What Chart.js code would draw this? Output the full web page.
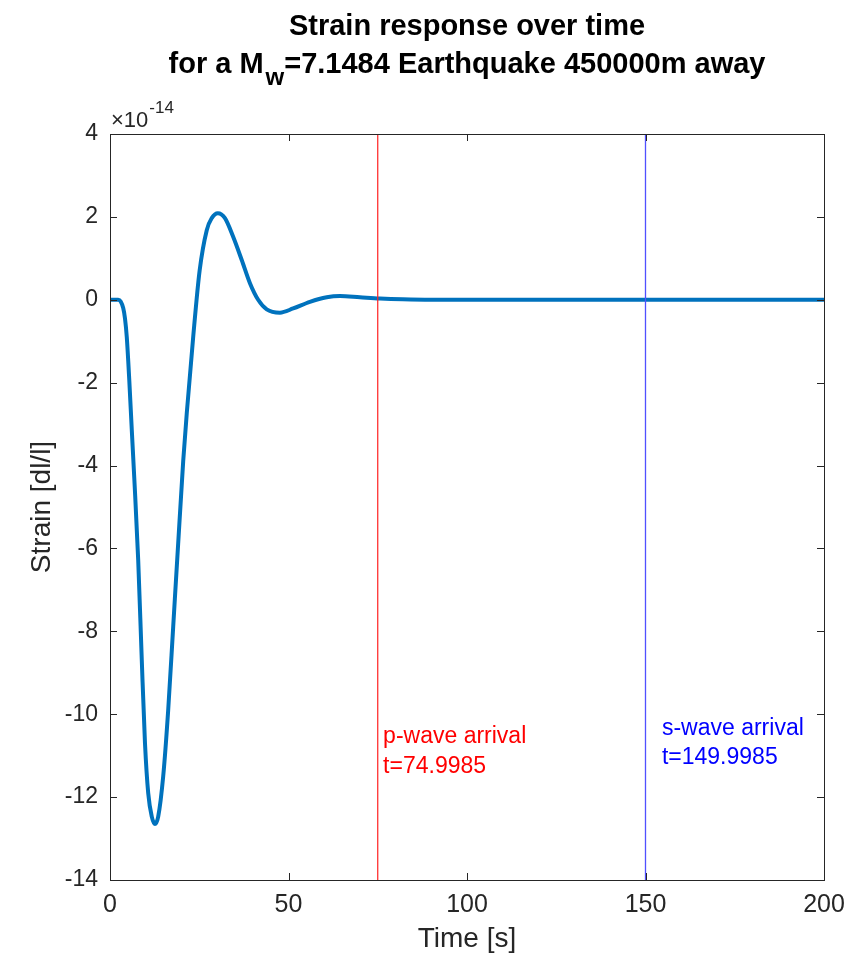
<!DOCTYPE html>
<html>
<head>
<meta charset="utf-8">
<script src="https://cdn.jsdelivr.net/npm/chart.js@4.4.1/dist/chart.umd.min.js"></script>
<style>
  html, body { margin: 0; padding: 0; background: #ffffff; }
  #wrap { width: 853px; height: 955px; position: relative; }
</style>
</head>
<body>
<div id="wrap"><canvas id="c" width="853" height="955"></canvas></div>
<script>
// ---- data (strain in units of 1e-14) ----
const EXPONENT = -14;
const time   = [0, 2.3, 3.0, 3.7, 4.2, 4.7, 5.4, 6.1, 6.8, 7.9, 8.9, 9.8, 10.7, 11.7, 12.6, 13.5, 14.9, 16.3, 17.7, 19.1, 20.5, 21.5, 23.3, 25.1, 27.1, 28.5, 30.2, 32.2, 34.5, 36.9, 39.2, 41.5, 43.9, 47.6, 51.3, 56, 60.7, 64.4, 70, 75.6, 82, 90, 120, 160, 200];
const strain = [0, 0, -0.04, -0.2, -0.45, -0.9, -1.94, -3.14, -4.3, -6.28, -8.69, -10.7, -11.9, -12.47, -12.65, -12.47, -11.5, -9.9, -7.89, -5.88, -3.9, -2.74, -0.9, 0.7, 1.68, 1.97, 2.09, 1.97, 1.52, 0.96, 0.40, 0.0, -0.23, -0.31, -0.21, -0.05, 0.06, 0.09, 0.06, 0.03, 0.01, 0, 0, 0, 0];
const pArrival = 74.9985;
const sArrival = 149.9985;
const xTicks = [0, 50, 100, 150, 200];
const yTicks = [-14, -12, -10, -8, -6, -4, -2, 0, 2, 4];
const titleLine1 = 'Strain response over time';
const titleLine2 = ['for a M', 'w', '=7.1484 Earthquake 450000m away'];
const xLabel = 'Time [s]';
const yLabel = 'Strain [dl/l]';
const annotations = [
  { x: 76.5, y: -10.70, lines: ['p-wave arrival', 't=74.9985'], color: '#ff0000' },
  { x: 154.6, y: -10.50, lines: ['s-wave arrival', 't=149.9985'], color: '#0000ff' }
];

const AX = '#262626';
const FONT = '"Liberation Sans", Arial, Helvetica, sans-serif';

const decorPlugin = {
  id: 'decor',
  afterDatasetsDraw(chart) {
    const ctx = chart.ctx;
    const xs = chart.scales.x, ys = chart.scales.y;
    const a = chart.chartArea;
    ctx.save();
    // annotations
    ctx.font = '23px ' + FONT;
    ctx.textAlign = 'left';
    ctx.textBaseline = 'alphabetic';
    annotations.forEach(an => {
      ctx.fillStyle = an.color;
      const px = xs.getPixelForValue(an.x);
      const py = ys.getPixelForValue(an.y);
      an.lines.forEach((ln, i) => ctx.fillText(ln, px, py + i * 29.5));
    });
    // box
    ctx.strokeStyle = AX;
    ctx.lineWidth = 1;
    ctx.strokeRect(Math.round(a.left) + 0.5, Math.round(a.top) + 0.5, Math.round(a.right - a.left), Math.round(a.bottom - a.top));
    // inward ticks
    const tl = 7;
    ctx.beginPath();
    xTicks.forEach(v => {
      const px = Math.round(xs.getPixelForValue(v)) + 0.5;
      ctx.moveTo(px, a.bottom); ctx.lineTo(px, a.bottom - tl);
      ctx.moveTo(px, a.top); ctx.lineTo(px, a.top + tl);
    });
    yTicks.forEach(v => {
      const py = Math.round(ys.getPixelForValue(v)) + 0.5;
      ctx.moveTo(a.left, py); ctx.lineTo(a.left + tl, py);
      ctx.moveTo(a.right, py); ctx.lineTo(a.right - tl, py);
    });
    ctx.stroke();
    // exponent label
    ctx.fillStyle = AX;
    ctx.textAlign = 'left';
    ctx.textBaseline = 'alphabetic';
    ctx.font = '22px ' + FONT;
    const base = '\u00d710';
    ctx.fillText(base, a.left + 1, 127);
    const bw = ctx.measureText(base).width;
    ctx.font = '17px ' + FONT;
    ctx.fillText(String(EXPONENT), a.left + 1 + bw + 1, 113);
    // axis titles
    ctx.font = '28px ' + FONT;
    ctx.textAlign = 'center';
    ctx.textBaseline = 'middle';
    ctx.fillText(xLabel, (a.left + a.right) / 2, 939);
    ctx.save();
    ctx.translate(42, (a.top + a.bottom) / 2);
    ctx.rotate(-Math.PI / 2);
    ctx.fillText(yLabel, 0, 0);
    ctx.restore();
    // title
    ctx.fillStyle = '#000000';
    const cx = (a.left + a.right) / 2;
    const big = 'bold 29px ' + FONT, small = 'bold 24px ' + FONT;
    ctx.font = big;
    ctx.textAlign = 'center';
    ctx.textBaseline = 'alphabetic';
    ctx.fillText(titleLine1, cx, 35);
    ctx.textAlign = 'left';
    ctx.font = big; const w1 = ctx.measureText(titleLine2[0]).width;
    ctx.font = small; const w2 = ctx.measureText(titleLine2[1]).width;
    ctx.font = big; const w3 = ctx.measureText(titleLine2[2]).width;
    const gap = 2;
    let sx = cx - (w1 + gap + w2 + w3) / 2;
    ctx.font = big; ctx.fillText(titleLine2[0], sx, 73); sx += w1 + gap;
    ctx.font = small; ctx.fillText(titleLine2[1], sx, 85); sx += w2;
    ctx.font = big; ctx.fillText(titleLine2[2], sx, 73);
    ctx.restore();
  }
};

new Chart(document.getElementById('c'), {
  type: 'line',
  data: {
    datasets: [
      {
        data: time.map((t, i) => ({ x: t, y: strain[i] })),
        borderColor: '#0072BD',
        borderWidth: 4,
        pointRadius: 0,
        cubicInterpolationMode: 'monotone',
        order: 2
      },
      {
        data: [{ x: pArrival, y: yTicks[0] }, { x: pArrival, y: yTicks[yTicks.length - 1] }],
        borderColor: '#ff2020', borderWidth: 1.2, pointRadius: 0, order: 1
      },
      {
        data: [{ x: sArrival, y: yTicks[0] }, { x: sArrival, y: yTicks[yTicks.length - 1] }],
        borderColor: '#5050ff', borderWidth: 1.3, pointRadius: 0, order: 1
      }
    ]
  },
  options: {
    responsive: false,
    animation: false,
    events: [],
    layout: { padding: { top: 134, right: 29, left: 0, bottom: 0 } },
    plugins: { legend: { display: false }, title: { display: false }, tooltip: { enabled: false } },
    scales: {
      x: {
        type: 'linear', min: xTicks[0], max: xTicks[xTicks.length - 1],
        afterBuildTicks: s => { s.ticks = xTicks.map(v => ({ value: v })); },
        afterFit: s => { s.height = 75; s.paddingRight = 0; s.paddingLeft = 0; },
        grid: { display: false, drawTicks: false },
        border: { display: false },
        ticks: { color: AX, font: { family: FONT, size: 25 }, padding: 10, maxRotation: 0 }
      },
      y: {
        type: 'linear', min: yTicks[0], max: yTicks[yTicks.length - 1],
        afterBuildTicks: s => { s.ticks = yTicks.map(v => ({ value: v })); },
        afterFit: s => { s.width = 110; s.paddingTop = 0; s.paddingBottom = 0; },
        grid: { display: false, drawTicks: false },
        border: { display: false },
        ticks: { color: AX, font: { family: FONT, size: 23 }, padding: 12 }
      }
    }
  },
  plugins: [decorPlugin]
});
</script>
</body>
</html>
